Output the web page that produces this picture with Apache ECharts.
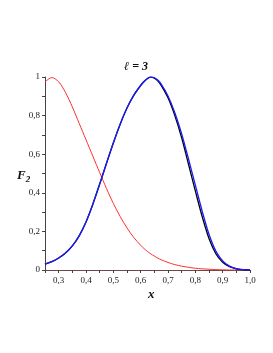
<!DOCTYPE html>
<html><head><meta charset="utf-8">
<script src="https://cdn.jsdelivr.net/npm/echarts@6/dist/echarts.min.js"></script>
<style>html,body{margin:0;padding:0;background:#fff}#c{width:273px;height:353px}</style>
</head><body><div id="c"></div>
<script>
var xs = [0.25,0.275,0.3,0.325,0.35,0.375,0.4,0.425,0.45,0.475,0.5,0.525,0.55,0.575,0.6,0.6125,0.625,0.6375,0.65,0.6625,0.675,0.7,0.725,0.75,0.775,0.8,0.825,0.85,0.875,0.9,0.925,0.95,0.975,1.0];
var redVals = [0.975,0.997,0.975,0.92,0.845,0.76,0.675,0.59,0.505,0.422,0.345,0.277,0.218,0.168,0.128,0.111,0.096,0.083,0.072,0.062,0.053,0.039,0.028,0.02,0.014,0.009,0.006,0.004,0.002,0.001,0,0,0,0];
var blueVals = [0.03,0.043,0.062,0.088,0.125,0.177,0.249,0.341,0.445,0.553,0.658,0.755,0.839,0.906,0.956,0.977,0.992,0.999,0.996,0.984,0.963,0.902,0.815,0.705,0.575,0.44,0.305,0.185,0.098,0.047,0.02,0.007,0.002,0];
var blackVals = [0.03,0.043,0.062,0.088,0.125,0.177,0.249,0.341,0.445,0.553,0.658,0.755,0.839,0.906,0.956,0.977,0.992,0.999,0.994,0.98,0.957,0.892,0.8,0.685,0.548,0.41,0.277,0.163,0.084,0.04,0.017,0.006,0.001,0];
var xTickLabels = ['0,3','0,4','0,5','0,6','0,7','0,8','0,9','1,0'];
var yTickLabels = ['0','0,2','0,4','0,6','0,8','1'];

function pairs(v){ return xs.map(function(x,i){ return [x, v[i]]; }); }
var serif = 'Liberation Serif';
var chart = echarts.init(document.getElementById('c'), null, {renderer:'canvas'});
chart.setOption({
  animation:false,
  backgroundColor:'#fff',
  title:[
    {text:'ℓ = 3', left:119, top:56, textStyle:{fontFamily:serif, fontStyle:'italic', fontWeight:'bold', fontSize:12, color:'#111'}},
    {text:'{f|F}{s|2}', left:12, top:162, textStyle:{rich:{f:{fontFamily:serif,fontStyle:'italic',fontWeight:'bold',fontSize:13,color:'#111'}, s:{fontFamily:serif,fontStyle:'italic',fontWeight:'bold',fontSize:9,color:'#111',padding:[8,0,0,0]}}}},
    {text:'x', left:143, top:283, textStyle:{fontFamily:serif, fontStyle:'italic', fontWeight:'bold', fontSize:13, color:'#111'}}
  ],
  grid:{left:45, right:23, top:77, bottom:83, containLabel:false},
  xAxis:{type:'value', min:0.25, max:1.0, interval:0.05,
    axisLine:{show:true, onZero:false, lineStyle:{color:'#6e4848', width:1}},
    axisTick:{show:true, inside:false, length:3, lineStyle:{color:'#444'}},
    splitLine:{show:false},
    axisLabel:{fontFamily:serif, fontSize:9, color:'#222', margin:6,
      formatter:function(v){ var k=Math.round(v*100); if(k%10!==0) return ''; var idx=Math.round(v*10)-3; return idx>=0 ? xTickLabels[idx] : ''; }}
  },
  yAxis:{type:'value', min:0, max:1, interval:0.1,
    axisLine:{show:true, lineStyle:{color:'#444', width:1}},
    axisTick:{show:true, inside:false, length:3, lineStyle:{color:'#444'}},
    splitLine:{show:false},
    axisLabel:{fontFamily:serif, fontSize:9, color:'#222', margin:5,
      formatter:function(v){ var k=Math.round(v*10); if(k%2!==0) return ''; return yTickLabels[k/2]; }}
  },
  series:[
    {type:'line', data:pairs(redVals), smooth:0.3, showSymbol:false, lineStyle:{color:'#ff3030', width:1}, z:2},
    {type:'line', data:pairs(blackVals), smooth:0.3, showSymbol:false, lineStyle:{color:'#000000', width:1.3}, z:3},
    {type:'line', data:pairs(blueVals), smooth:0.3, showSymbol:false, lineStyle:{color:'#1a1aff', width:1.3}, z:4}
  ]
});
</script></body></html>
